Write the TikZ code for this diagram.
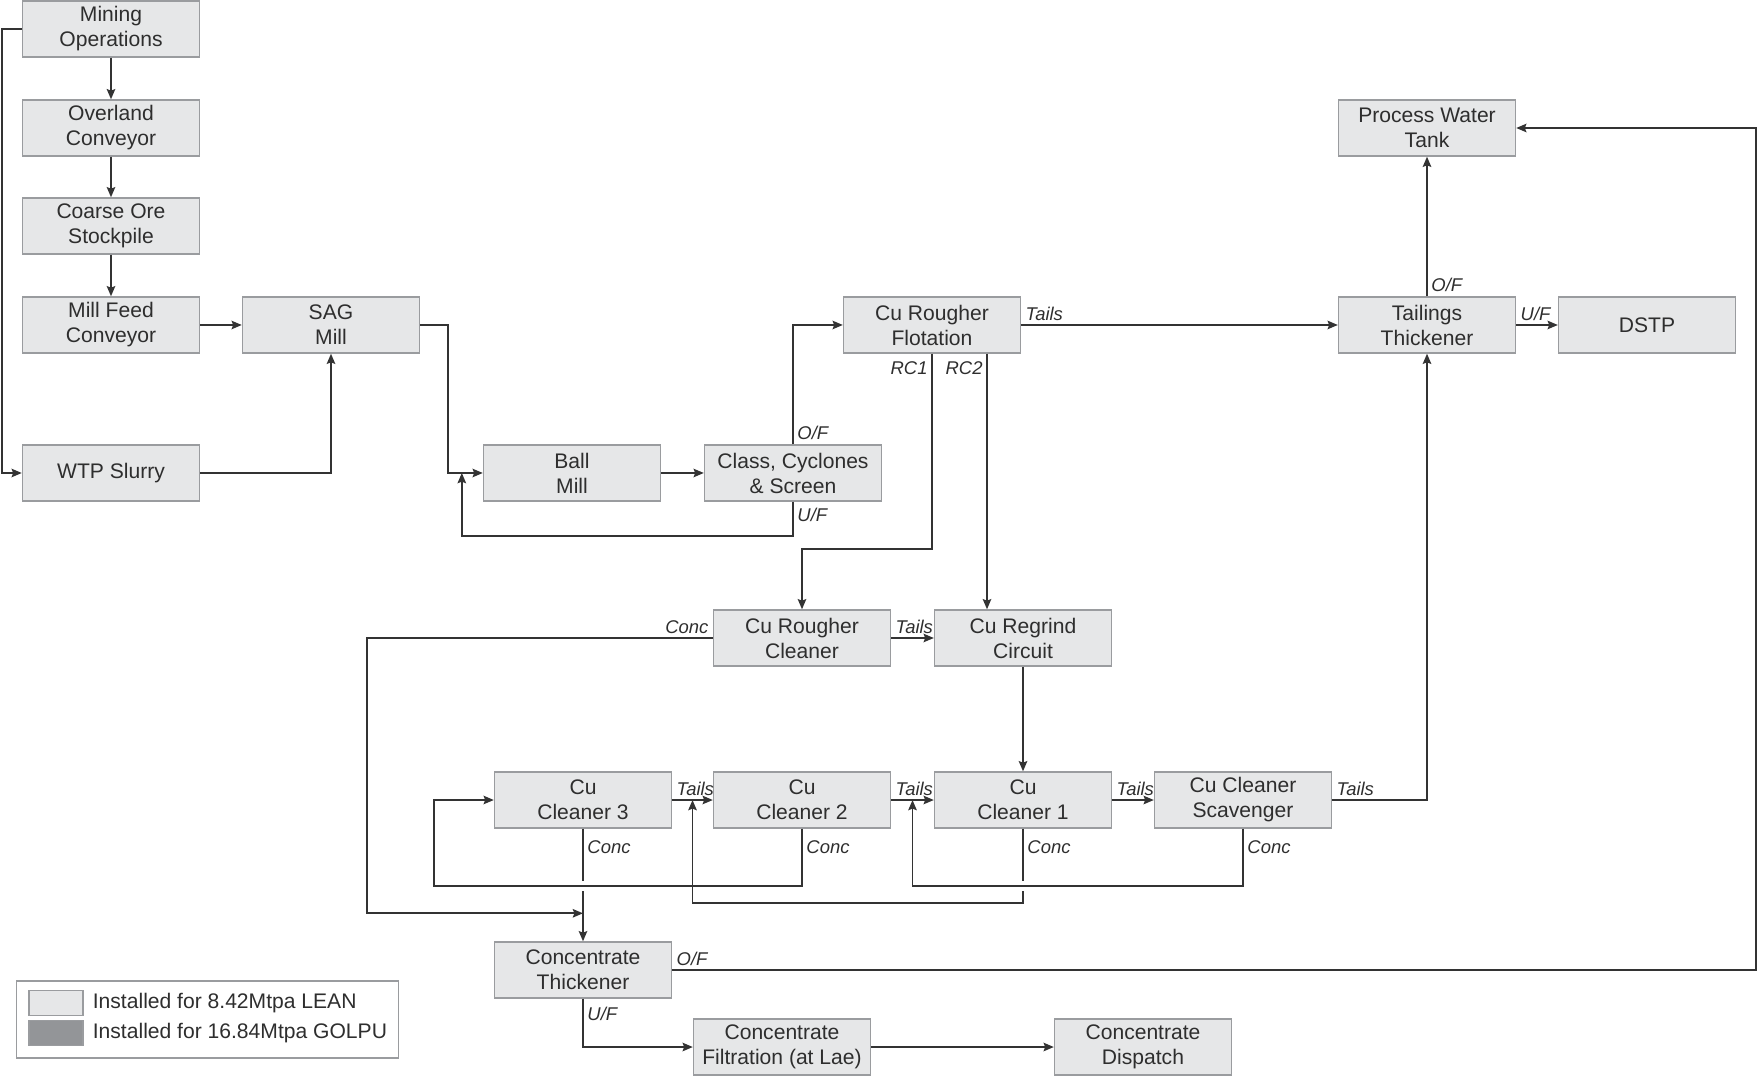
\documentclass[tikz,border=0pt]{standalone}
\usepackage{fontspec}
\setmainfont{Liberation Sans}
\usepackage{tikz}
\usetikzlibrary{positioning}
\usetikzlibrary{shapes,arrows,arrows.meta,calc}
\usepackage{color}
\definecolor{boxfill}{HTML}{E6E7E8}
\definecolor{boxline}{HTML}{9A9C9F}
\definecolor{flowline}{HTML}{333333}
\definecolor{golpu}{HTML}{939598}
\definecolor{txt}{HTML}{2E2E2E}
\tikzset{
    %Define standard arrow tip
    >={Stealth[length=5.8pt,width=4.8pt,inset=0.9pt]},
    % process unit
    unit/.style={
           draw=boxline,
           fill=boxfill,
           line width=0.8pt,
           text=txt,
           align=center,
           inner sep=0pt,
           minimum width=3.54cm,
           minimum height=1.12cm,
           font=\fontsize{12}{14.2}\selectfont},
    % Define arrow style
    flow/.style={
           ->,
           draw=flowline,
           line width=1.1pt},
    % stream label
    lab/.style={
           text=txt,
           inner sep=2pt,
           font=\fontsize{10.5}{12}\selectfont\itshape},
    % gap where a line hops over another
    hop/.style={
           draw=white,
           line width=3pt}
}

\begin{document}
\begin{tikzpicture}[x=0.02cm, y=-0.02cm]

\useasboundingbox (0,0) rectangle (1758,1077);

%%%%%%%%%%%%%%%%%%%%%%%%%%%%%%%%%

% crushing and conveying
\node [unit] (mining)   at (111,  29) {Mining\\Operations};
\node [unit] (overland) at (111, 128) {Overland\\Conveyor};
\node [unit] (coarse)   at (111, 226) {Coarse Ore\\Stockpile};
\node [unit] (millfeed) at (111, 325) {Mill Feed\\Conveyor};
\node [unit] (wtp)      at (111, 473) {WTP Slurry};

% grinding
\node [unit] (sag)   at (331, 325) {SAG\\Mill};
\node [unit] (ball)  at (572, 473) {Ball\\Mill};
\node [unit] (class) at (793, 473) {Class, Cyclones\\\& Screen};

% flotation
\node [unit] (rougher)  at (932, 325) {Cu Rougher\\Flotation};
\node [unit] (rcleaner) at (802, 638) {Cu Rougher\\Cleaner};
\node [unit] (regrind)  at (1023, 638) {Cu Regrind\\Circuit};
\node [unit] (clean3)   at (583, 800) {Cu\\Cleaner 3};
\node [unit] (clean2)   at (802, 800) {Cu\\Cleaner 2};
\node [unit] (clean1)   at (1023, 800) {Cu\\Cleaner 1};
\node [unit] (scav)     at (1243, 800) {Cu Cleaner\\Scavenger};

% tailings and water
\node [unit] (pwt)       at (1427, 128) {Process Water\\Tank};
\node [unit] (tailthick) at (1427, 325) {Tailings\\Thickener};
\node [unit] (dstp)      at (1647, 325) {DSTP};

% concentrate
\node [unit] (cthick)   at (583, 970) {Concentrate\\Thickener};
\node [unit] (filt)     at (782, 1047) {Concentrate\\Filtration (at Lae)};
\node [unit] (dispatch) at (1143, 1047) {Concentrate\\Dispatch};

% helper points
\coordinate (ballin) at ($(ball.west)+(-21,0)$);
\coordinate (cjoin)  at ($(cthick.north)+(0,-28)$);
\coordinate (c1in)   at ($(clean3.east)!0.5!(clean2.west)$);
\coordinate (c2in)   at ($(clean2.east)!0.5!(clean1.west)$);
\coordinate (c3hop)  at ($(clean3.south)+(0,57)$);
\coordinate (c1hop)  at ($(clean1.south)+(0,57)$);

% ore feed
\draw [flow] (mining) -- (overland);
\draw [flow] (overland) -- (coarse);
\draw [flow] (coarse) -- (millfeed);
\draw [flow] (millfeed) -- (sag);
\draw [flow] (mining.west) -- ++(-20,0) |- (wtp.west);
\draw [flow] (wtp.east) -| (sag.south);

% grinding circuit
\draw [flow] (sag.east) -- ++(28,0) |- (ball.west);
\draw [flow] (ball) -- (class);
\draw [flow] (class.south) node [lab, below right, yshift=-1pt] {U/F} -- ++(0,34) -| (ballin);
\draw [flow] (class.north) node [lab, above right] {O/F} |- (rougher.west);

% rougher
\draw [flow] (rougher.east) node [lab, above right] {Tails} -- (tailthick.west);
\draw [flow] (rougher.south) node [lab, below left, yshift=-2pt] {RC1} -- ++(0,195) -| (rcleaner.north);
\draw [flow] ($(rougher.south)+(55,0)$) node [lab, below left, yshift=-2pt] {RC2} -- ($(regrind.north)+(-36,0)$);
\draw [flow] (rcleaner.east) node [lab, above right] {Tails} -- (regrind.west);
\draw [flow] (rcleaner.west) node [lab, above left] {Conc} -- ++(-346,0) |- (cjoin);
\draw [flow] (regrind) -- (clean1);

% cleaners
\draw [flow] (clean3.east) node [lab, above right] {Tails} -- (clean2.west);
\draw [flow] (clean2.east) node [lab, above right] {Tails} -- (clean1.west);
\draw [flow] (clean1.east) node [lab, above right] {Tails} -- (scav.west);
\draw [flow] (scav.east) node [lab, above right] {Tails} -| (tailthick.south);
\draw [flow] (clean3.south) node [lab, below right, yshift=-4pt] {Conc} -- (cthick.north);
\draw [flow] (clean1.south) node [lab, below right, yshift=-4pt] {Conc} -- ++(0,74) -| (c1in);
\draw [hop] ($(c3hop)+(0,-5)$) -- ($(c3hop)+(0,5)$);
\draw [hop] ($(c1hop)+(0,-5)$) -- ($(c1hop)+(0,5)$);
\draw [flow] (clean2.south) node [lab, below right, yshift=-4pt] {Conc} -- ++(0,57) -| ($(clean3.west)+(-60,0)$) -- (clean3.west);
\draw [flow] (scav.south) node [lab, below right, yshift=-4pt] {Conc} -- ++(0,57) -| (c2in);

% tailings, water and concentrate
\draw [flow] (tailthick.north) node [lab, above right] {O/F} -- (pwt.south);
\draw [flow] (tailthick.east) node [lab, above right] {U/F} -- (dstp.west);
\draw [flow] (cthick.east) node [lab, above right] {O/F} -- ++(1084,0) |- (pwt.east);
\draw [flow] (cthick.south) node [lab, below right, yshift=-2pt] {U/F} |- (filt.west);
\draw [flow] (filt) -- (dispatch);

% legend
\node [draw=boxline, line width=0.6pt, minimum width=7.66cm, minimum height=1.54cm, inner sep=0pt] (legend) at (207.5,1019.5) {};
\node [draw=boxline, fill=boxfill, line width=0.6pt, minimum width=1.08cm, minimum height=0.5cm, inner sep=0pt] (leanbox) at (56,1003) {};
\node [draw=boxline, fill=golpu, line width=0.6pt, minimum width=1.08cm, minimum height=0.5cm, inner sep=0pt] (golpubox) at (56,1033) {};
\node [right=0.18cm of leanbox, text=txt, inner sep=0pt, font=\fontsize{12}{14}\selectfont] (leantext) {Installed for 8.42Mtpa LEAN};
\node [right=0.18cm of golpubox, text=txt, inner sep=0pt, font=\fontsize{12}{14}\selectfont] (golputext) {Installed for 16.84Mtpa GOLPU};

\end{tikzpicture}
\end{document}
